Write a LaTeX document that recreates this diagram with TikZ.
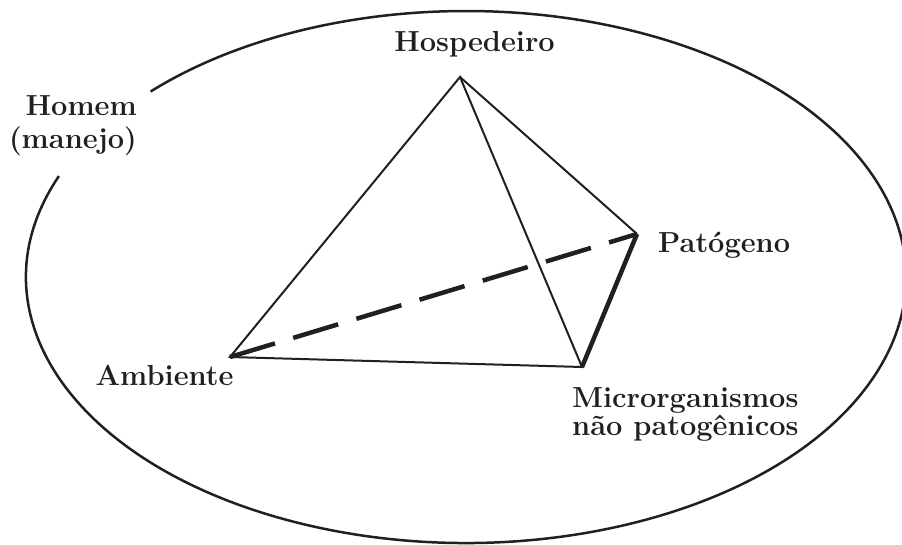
\documentclass[tikz,border=0pt]{standalone}
\definecolor{ink}{HTML}{231F20}
\begin{document}
\begin{tikzpicture}[x=1pt,y=1pt,
  ellline/.style={draw=ink,line width=2.5pt},
  thinedge/.style={draw=ink,line width=2pt,line join=miter},
  thickedge/.style={draw=ink,line width=4.5pt},
  dashedge/.style={draw=ink,line width=4.5pt,dash pattern=on 47pt off 19pt},
  lab/.style={font=\fontsize{29}{33}\selectfont\bfseries,text=ink,inner sep=0pt}]
\useasboundingbox (0,0) rectangle (902,544);
\coordinate (C) at (466,267);
\draw[ellline] ([shift={(157.7:440 and 266)}]C) arc[start angle=157.7,end angle=495.8,x radius=440,y radius=266];
\coordinate (H) at (460,467);
\coordinate (P) at (637,310);
\coordinate (M) at (582,177);
\coordinate (A) at (230,187);
\draw[thinedge] (A) -- (H) -- (M) -- cycle;
\draw[thinedge] (H) -- (P);
\draw[dashedge] (A) -- (P);
\draw[thickedge] (P) -- (M);
\node[lab,anchor=base] (hosp) at (474.5,492) {Hospedeiro};
\node[lab,anchor=north east,align=right] (homem) at (137,448.9) {Homem\\(manejo)};
\node[lab,anchor=base west] (pato) at (658,291) {Patógeno};
\node[lab,anchor=base] (amb) at (164.5,159) {Ambiente};
\node[lab,anchor=north west,align=left,fill=white,inner sep=2pt,
  font=\fontsize{29}{28}\selectfont\bfseries] (micro) at (570,158.9) {Microrganismos\\não patogênicos};
\end{tikzpicture}
\end{document}
